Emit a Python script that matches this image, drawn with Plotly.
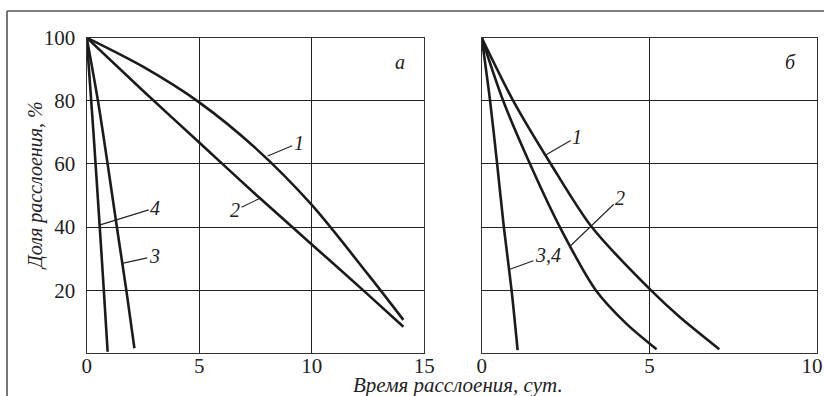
import plotly.graph_objects as go

# Panel "а"
a1_x = [0, 2.5, 5, 7.5, 10, 12.5, 14.07]
a1_y = [100, 90.8, 79.5, 65, 47, 25, 10.6]
a2_x = [0, 2.5, 5.0, 7.5, 10.0, 12.5, 14.07]
a2_y = [100, 83.2, 66.8, 50.4, 34.5, 18.6, 8.4]
a3_x = [0, 0.5, 0.93, 1.34, 1.76, 2.12]
a3_y = [100, 80, 60, 40, 20, 1.6]
a4_x = [0, 0.3, 0.58, 0.76, 0.93]
a4_y = [100, 70, 40, 20, 0.5]

# Panel "б"
b1_x = [0, 0.94, 2.06, 3.28, 5.04, 5.9, 7.08]
b1_y = [100, 80, 60, 40, 20, 11.5, 1.3]
b2_x = [0, 0.64, 1.44, 2.33, 3.4, 4.3, 5.21]
b2_y = [100, 80, 60, 40, 20, 9.5, 1.3]
b34_x = [0, 0.25, 0.46, 0.66, 0.89, 1.07]
b34_y = [100, 80, 60, 40, 20, 1.0]

xticks_a = [0, 5, 10, 15]
xticks_b = [0, 5, 10]
xticktext_b = ["0", "5", "10\u00a0\u00a0"]
yticks = [20, 40, 60, 80, 100]

W, H = 824, 396
FONT = "Liberation Serif"
LC = "#1b1b1b"

fig = go.Figure()

def add(x, y, xa, ya):
    fig.add_trace(go.Scatter(x=x, y=y, xaxis=xa, yaxis=ya, mode="lines",
                             line=dict(color=LC, width=2.6, shape="spline", smoothing=0.8),
                             showlegend=False, hoverinfo="skip"))

add(a1_x, a1_y, "x", "y")
add(a2_x, a2_y, "x", "y")
add(a3_x, a3_y, "x", "y")
add(a4_x, a4_y, "x", "y")
add(b1_x, b1_y, "x2", "y2")
add(b2_x, b2_y, "x2", "y2")
add(b34_x, b34_y, "x2", "y2")

def px(v):
    return v / W

def py(v):
    return 1 - v / H

axis_common = dict(showgrid=True, gridcolor="#222", gridwidth=1.2, zeroline=False,
                   showline=True, mirror=True, linecolor="#333", linewidth=1.4,
                   ticks="", automargin=False, ticklabeloverflow="allow",
                   tickfont=dict(family=FONT, size=21, color="#222"))

fig.update_layout(
    template="none",
    width=W, height=H, margin=dict(l=0, r=0, t=0, b=0, pad=0), autosize=False,
    paper_bgcolor="white", plot_bgcolor="white",
    xaxis=dict(domain=[px(86.7), px(424.3)], range=[0, 15], tickvals=xticks_a,
               anchor="y", ticklabelstandoff=-7, **axis_common),
    yaxis=dict(domain=[py(353.3), py(37.7)], range=[0, 100], tickvals=yticks,
               anchor="x", ticklabelstandoff=6, **axis_common),
    xaxis2=dict(domain=[px(481.7), px(817.3)], range=[0, 10], tickvals=xticks_b,
                ticktext=xticktext_b, anchor="y2", ticklabelstandoff=-7, **axis_common),
    yaxis2=dict(domain=[py(353.3), py(37.7)], range=[0, 100], tickvals=yticks,
                anchor="x2", showticklabels=False, **axis_common),
)

lab_font = dict(family=FONT, size=20, color="#222", style="italic")

def label(text, x, y, ax, ay, xref, yref):
    fig.add_annotation(text=text, x=x, y=y, xref=xref, yref=yref, ax=ax, ay=ay,
                       showarrow=True, arrowhead=0, arrowwidth=1.1, arrowcolor="#222",
                       standoff=0, font=lab_font)

label("1", 8.04, 62.5, 31, -13, "x", "y")
label("2", 7.7, 49.1, -25, 12, "x", "y")
label("4", 0.6, 40.7, 55, -17, "x", "y")
label("3", 1.58, 28.5, 32, -7, "x", "y")
label("1", 1.92, 62.9, 31, -18, "x2", "y2")
label("2", 2.64, 34, 50, -48, "x2", "y2")
label("3,4", 0.84, 26.6, 38, -14, "x2", "y2")

def text_at(text, x, y, font, angle=0):
    fig.add_annotation(text=text, x=px(x), y=py(y), xref="paper", yref="paper",
                       xanchor="center", yanchor="middle", showarrow=False,
                       textangle=angle, font=font)

text_at("а", 400, 62, lab_font)
text_at("б", 790, 62, lab_font)

text_at("Доля расслоения, %", 35, 186,
        dict(family=FONT, size=20, color="#222", style="italic"), -90)
text_at("Время расслоения, сут.", 458, 385,
        dict(family=FONT, size=21, color="#222", style="italic"))

# outer frame (left and top edges)
fig.add_shape(type="line", xref="paper", yref="paper", x0=px(7), x1=px(7), y0=0, y1=py(11),
              line=dict(color="#555", width=1.6))
fig.add_shape(type="line", xref="paper", yref="paper", x0=px(7), x1=1, y0=py(11), y1=py(11),
              line=dict(color="#555", width=1.6))

fig.write_html("out.html", config={"displayModeBar": False},
               post_script="document.body.style.margin='0';document.body.style.overflow='hidden';")
